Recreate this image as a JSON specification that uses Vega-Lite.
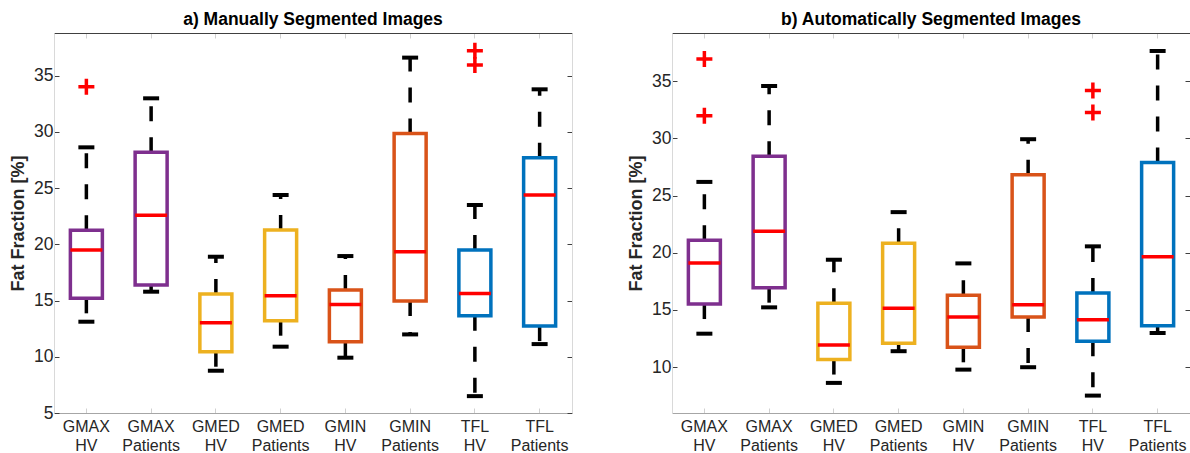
{
  "$schema": "https://vega.github.io/schema/vega-lite/v6.json",
  "padding": {"left": 9, "top": 11, "right": 0, "bottom": 0},
  "spacing": 54,
  "config": {
    "view": {"stroke": null},
    "axis": {"grid": false, "labelFont": "Liberation Sans", "titleFont": "Liberation Sans"},
    "font": "Liberation Sans"
  },
  "datasets": {
    "a_boxes": [
      {"group": "GMAX|HV", "muscle": "GMAX", "lower": 13.12, "q1": 15.2, "median": 19.5, "q3": 21.25, "upper": 28.63},
      {"group": "GMAX|Patients", "muscle": "GMAX", "lower": 15.79, "q1": 16.38, "median": 22.6, "q3": 28.19, "upper": 32.99},
      {"group": "GMED|HV", "muscle": "GMED", "lower": 8.76, "q1": 10.45, "median": 13.03, "q3": 15.58, "upper": 18.9},
      {"group": "GMED|Patients", "muscle": "GMED", "lower": 10.9, "q1": 13.21, "median": 15.44, "q3": 21.27, "upper": 24.39},
      {"group": "GMIN|HV", "muscle": "GMIN", "lower": 9.92, "q1": 11.34, "median": 14.66, "q3": 15.94, "upper": 18.96},
      {"group": "GMIN|Patients", "muscle": "GMIN", "lower": 11.99, "q1": 14.96, "median": 19.35, "q3": 29.85, "upper": 36.61},
      {"group": "TFL|HV", "muscle": "TFL", "lower": 6.5, "q1": 13.66, "median": 15.64, "q3": 19.49, "upper": 23.5},
      {"group": "TFL|Patients", "muscle": "TFL", "lower": 11.13, "q1": 12.73, "median": 24.39, "q3": 27.71, "upper": 33.79}
    ],
    "a_out": [
      {"group": "GMAX|HV", "value": 34.03},
      {"group": "TFL|HV", "value": 37.23},
      {"group": "TFL|HV", "value": 35.95}
    ],
    "b_boxes": [
      {"group": "GMAX|HV", "muscle": "GMAX", "lower": 12.93, "q1": 15.52, "median": 19.1, "q3": 21.1, "upper": 26.19},
      {"group": "GMAX|Patients", "muscle": "GMAX", "lower": 15.23, "q1": 16.95, "median": 21.87, "q3": 28.43, "upper": 34.57},
      {"group": "GMED|HV", "muscle": "GMED", "lower": 8.63, "q1": 10.67, "median": 11.95, "q3": 15.58, "upper": 19.39},
      {"group": "GMED|Patients", "muscle": "GMED", "lower": 11.4, "q1": 12.09, "median": 15.15, "q3": 20.82, "upper": 23.55},
      {"group": "GMIN|HV", "muscle": "GMIN", "lower": 9.79, "q1": 11.74, "median": 14.39, "q3": 16.28, "upper": 19.07},
      {"group": "GMIN|Patients", "muscle": "GMIN", "lower": 10.0, "q1": 14.39, "median": 15.46, "q3": 26.81, "upper": 29.92},
      {"group": "TFL|HV", "muscle": "TFL", "lower": 7.52, "q1": 12.27, "median": 14.15, "q3": 16.48, "upper": 20.56},
      {"group": "TFL|Patients", "muscle": "TFL", "lower": 12.99, "q1": 13.63, "median": 19.65, "q3": 27.89, "upper": 37.63}
    ],
    "b_out": [
      {"group": "GMAX|HV", "value": 36.93},
      {"group": "GMAX|HV", "value": 31.98},
      {"group": "TFL|HV", "value": 34.17},
      {"group": "TFL|HV", "value": 32.25}
    ]
  },
  "hconcat": [
    {
      "width": 518,
      "height": 380,
      "title": {"text": "a) Manually Segmented Images", "fontSize": 17.5, "fontWeight": "bold", "color": "#000000", "offset": 4, "anchor": "middle"},
      "data": {"name": "a_boxes"},
      "resolve": {"axis": {"x": "independent", "y": "independent"}},
      "layer": [
        {
          "mark": {"type": "rule", "strokeDash": [15, 16], "strokeWidth": 3.5, "color": "#000000"},
          "encoding": {
            "x": {"field": "group", "type": "nominal", "sort": null, "scale": {"type": "band", "domain": ["GMAX|HV", "GMAX|Patients", "GMED|HV", "GMED|Patients", "GMIN|HV", "GMIN|Patients", "TFL|HV", "TFL|Patients"], "paddingInner": 0, "paddingOuter": 0},
              "axis": {"orient": "bottom", "title": null, "labelExpr": "split(datum.label, '|')", "labelAngle": 0, "labelFontSize": 16, "labelColor": "#262626", "labelLineHeight": 19, "labelPadding": 10, "tickSize": -5, "tickColor": "#d0d0d0", "domainColor": "#a6a6a6"}},
            "y": {"field": "q3", "type": "quantitative", "scale": {"domain": [5, 38.8], "nice": false, "zero": false},
              "axis": {"orient": "left", "values": [5, 10, 15, 20, 25, 30, 35], "title": "Fat Fraction [%]", "titleFontSize": 18, "titleFontWeight": "bold", "titleColor": "#262626", "titlePadding": 6, "labelFontSize": 17.5, "labelColor": "#262626", "labelPadding": 6, "tickSize": -5, "tickColor": "#404040", "domainColor": "#d9d9d9"}},
            "y2": {"field": "upper"}
          }
        },
        {
          "mark": {"type": "rule", "strokeDash": [15, 16], "strokeWidth": 3.5, "color": "#000000"},
          "encoding": {
            "x": {"field": "group", "type": "nominal", "sort": null,
              "axis": {"orient": "top", "title": null, "labels": false, "tickSize": -5, "tickColor": "#d0d0d0", "domainColor": "#404040"}},
            "y": {"field": "q1", "type": "quantitative",
              "axis": {"orient": "right", "values": [5, 10, 15, 20, 25, 30, 35], "title": null, "labels": false, "tickSize": -5, "tickColor": "#404040", "domainColor": "#d9d9d9"}},
            "y2": {"field": "lower"}
          }
        },
        {
          "mark": {"type": "tick", "size": 16, "thickness": 4, "color": "#000000", "opacity": 1},
          "encoding": {
            "x": {"field": "group", "type": "nominal", "sort": null, "axis": null},
            "y": {"field": "upper", "type": "quantitative", "axis": null}
          }
        },
        {
          "mark": {"type": "tick", "size": 16, "thickness": 4, "color": "#000000", "opacity": 1},
          "encoding": {
            "x": {"field": "group", "type": "nominal", "sort": null, "axis": null},
            "y": {"field": "lower", "type": "quantitative", "axis": null}
          }
        },
        {
          "mark": {"type": "bar", "size": 32, "fill": "#ffffff", "strokeWidth": 3.5, "opacity": 1},
          "encoding": {
            "x": {"field": "group", "type": "nominal", "sort": null, "axis": null},
            "y": {"field": "q1", "type": "quantitative", "axis": null},
            "y2": {"field": "q3"},
            "stroke": {"field": "muscle", "type": "nominal", "scale": {"domain": ["GMAX", "GMED", "GMIN", "TFL"], "range": ["#7E2F8E", "#EDB120", "#D95319", "#0072BD"]}, "legend": null}
          }
        },
        {
          "mark": {"type": "tick", "size": 32, "thickness": 3.5, "color": "#FF0000", "opacity": 1},
          "encoding": {
            "x": {"field": "group", "type": "nominal", "sort": null, "axis": null},
            "y": {"field": "median", "type": "quantitative", "axis": null}
          }
        },
        {
          "data": {"name": "a_out"},
          "mark": {"type": "point", "shape": "M-1,0H1M0,-1V1", "size": 256, "filled": false, "stroke": "#FF0000", "strokeWidth": 3.5, "opacity": 1},
          "encoding": {
            "x": {"field": "group", "type": "nominal", "sort": null, "axis": null},
            "y": {"field": "value", "type": "quantitative", "axis": null}
          }
        }
      ]
    },
    {
      "width": 518,
      "height": 380,
      "title": {"text": "b) Automatically Segmented Images", "fontSize": 17.5, "fontWeight": "bold", "color": "#000000", "offset": 4, "anchor": "middle"},
      "data": {"name": "b_boxes"},
      "resolve": {"axis": {"x": "independent", "y": "independent"}},
      "layer": [
        {
          "mark": {"type": "rule", "strokeDash": [15, 16], "strokeWidth": 3.5, "color": "#000000"},
          "encoding": {
            "x": {"field": "group", "type": "nominal", "sort": null, "scale": {"type": "band", "domain": ["GMAX|HV", "GMAX|Patients", "GMED|HV", "GMED|Patients", "GMIN|HV", "GMIN|Patients", "TFL|HV", "TFL|Patients"], "paddingInner": 0, "paddingOuter": 0},
              "axis": {"orient": "bottom", "title": null, "labelExpr": "split(datum.label, '|')", "labelAngle": 0, "labelFontSize": 16, "labelColor": "#262626", "labelLineHeight": 19, "labelPadding": 10, "tickSize": -5, "tickColor": "#d0d0d0", "domainColor": "#a6a6a6"}},
            "y": {"field": "q3", "type": "quantitative", "scale": {"domain": [6, 39.2], "nice": false, "zero": false},
              "axis": {"orient": "left", "values": [10, 15, 20, 25, 30, 35], "title": "Fat Fraction [%]", "titleFontSize": 18, "titleFontWeight": "bold", "titleColor": "#262626", "titlePadding": 6, "labelFontSize": 17.5, "labelColor": "#262626", "labelPadding": 6, "tickSize": -5, "tickColor": "#404040", "domainColor": "#d9d9d9"}},
            "y2": {"field": "upper"}
          }
        },
        {
          "mark": {"type": "rule", "strokeDash": [15, 16], "strokeWidth": 3.5, "color": "#000000"},
          "encoding": {
            "x": {"field": "group", "type": "nominal", "sort": null,
              "axis": {"orient": "top", "title": null, "labels": false, "tickSize": -5, "tickColor": "#d0d0d0", "domainColor": "#404040"}},
            "y": {"field": "q1", "type": "quantitative",
              "axis": {"orient": "right", "values": [10, 15, 20, 25, 30, 35], "title": null, "labels": false, "tickSize": -5, "tickColor": "#404040", "domainColor": "#d9d9d9"}},
            "y2": {"field": "lower"}
          }
        },
        {
          "mark": {"type": "tick", "size": 16, "thickness": 4, "color": "#000000", "opacity": 1},
          "encoding": {
            "x": {"field": "group", "type": "nominal", "sort": null, "axis": null},
            "y": {"field": "upper", "type": "quantitative", "axis": null}
          }
        },
        {
          "mark": {"type": "tick", "size": 16, "thickness": 4, "color": "#000000", "opacity": 1},
          "encoding": {
            "x": {"field": "group", "type": "nominal", "sort": null, "axis": null},
            "y": {"field": "lower", "type": "quantitative", "axis": null}
          }
        },
        {
          "mark": {"type": "bar", "size": 32, "fill": "#ffffff", "strokeWidth": 3.5, "opacity": 1},
          "encoding": {
            "x": {"field": "group", "type": "nominal", "sort": null, "axis": null},
            "y": {"field": "q1", "type": "quantitative", "axis": null},
            "y2": {"field": "q3"},
            "stroke": {"field": "muscle", "type": "nominal", "scale": {"domain": ["GMAX", "GMED", "GMIN", "TFL"], "range": ["#7E2F8E", "#EDB120", "#D95319", "#0072BD"]}, "legend": null}
          }
        },
        {
          "mark": {"type": "tick", "size": 32, "thickness": 3.5, "color": "#FF0000", "opacity": 1},
          "encoding": {
            "x": {"field": "group", "type": "nominal", "sort": null, "axis": null},
            "y": {"field": "median", "type": "quantitative", "axis": null}
          }
        },
        {
          "data": {"name": "b_out"},
          "mark": {"type": "point", "shape": "M-1,0H1M0,-1V1", "size": 256, "filled": false, "stroke": "#FF0000", "strokeWidth": 3.5, "opacity": 1},
          "encoding": {
            "x": {"field": "group", "type": "nominal", "sort": null, "axis": null},
            "y": {"field": "value", "type": "quantitative", "axis": null}
          }
        }
      ]
    }
  ]
}
